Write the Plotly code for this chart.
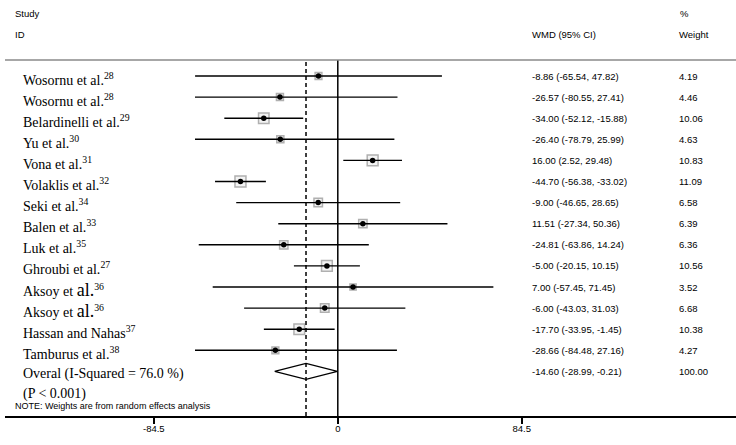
import plotly.graph_objects as go

# ---------------- data ----------------
studies = ["Wosornu et al.", "Wosornu et al.", "Belardinelli et al.", "Yu et al.",
           "Vona et al.", "Volaklis et al.", "Seki et al.", "Balen et al.",
           "Luk et al.", "Ghroubi et al.", "Aksoy et al.", "Aksoy et al.",
           "Hassan and Nahas", "Tamburus et al."]
refs = [28, 28, 29, 30, 31, 32, 34, 33, 35, 27, 36, 36, 37, 38]
wmd = [-8.86, -26.57, -34.00, -26.40, 16.00, -44.70, -9.00, 11.51, -24.81,
       -5.00, 7.00, -6.00, -17.70, -28.66]
ci_low = [-65.54, -80.55, -52.12, -78.79, 2.52, -56.38, -46.65, -27.34,
          -63.86, -20.15, -57.45, -43.03, -33.95, -84.48]
ci_high = [47.82, 27.41, -15.88, 25.99, 29.48, -33.02, 28.65, 50.36, 14.24,
           10.15, 71.45, 31.03, -1.45, 27.16]
weights = [4.19, 4.46, 10.06, 4.63, 10.83, 11.09, 6.58, 6.39, 6.36, 10.56,
           3.52, 6.68, 10.38, 4.27]
overall_est, overall_low, overall_high, overall_weight = -14.60, -28.99, -0.21, 100.00
overall_label = "Overal (I-Squared = 76.0 %)"
overall_p = "(P < 0.001)"
tick_vals = [-84.5, 0, 84.5]
tick_text = ["-84.5", "0", "84.5"]

# ---------------- layout helpers ----------------
W, H = 736, 445
X0PIX = 337.8          # pixel of value 0
SCALE = 2.1775         # pixels per unit
ROW0, ROWSTEP = 76.0, 21.1
AXIS_PIX = 416.0


def px(x):
    return x / W


def py(y):
    return 1 - y / H


def val_at(pix):
    return (pix - X0PIX) / SCALE


def row_at(pix):
    return (pix - ROW0) / ROWSTEP


rows = list(range(len(studies)))
overall_row = len(studies)

fig = go.Figure()

# weight squares
fig.add_trace(go.Scatter(x=wmd, y=rows, mode="markers", cliponaxis=False,
                         marker=dict(symbol="square",
                                     size=[3.3 * w ** 0.5 for w in weights],
                                     color="rgba(225,225,225,0.55)",
                                     line=dict(color="#8f8f8f", width=1.5)),
                         showlegend=False, hoverinfo="skip"))

# CI lines (on axis x2 whose plot area starts further right, so long CIs are clipped)
xs, ys = [], []
for r, lo, hi in zip(rows, ci_low, ci_high):
    xs += [lo, hi, None]
    ys += [r, r, None]
fig.add_trace(go.Scatter(x=xs, y=ys, mode="lines", xaxis="x2", yaxis="y",
                         line=dict(color="black", width=1.4),
                         hoverinfo="skip", showlegend=False))

# point estimates
fig.add_trace(go.Scatter(x=wmd, y=rows, mode="markers", cliponaxis=False,
                         marker=dict(symbol="circle", size=5.5, color="black"),
                         showlegend=False, hoverinfo="skip"))

# overall diamond
dh = 0.38
fig.add_trace(go.Scatter(
    x=[overall_low, overall_est, overall_high, overall_est, overall_low],
    y=[overall_row, overall_row - dh, overall_row, overall_row + dh, overall_row],
    mode="lines", fill="toself", fillcolor="white",
    line=dict(color="black", width=1.2), showlegend=False, hoverinfo="skip"))

# reference lines
fig.add_shape(type="line", xref="x", yref="paper", x0=0, x1=0,
              y0=py(AXIS_PIX), y1=py(60), line=dict(color="black", width=1.5))
fig.add_shape(type="line", xref="x", yref="paper", x0=overall_est, x1=overall_est,
              y0=py(AXIS_PIX), y1=py(60),
              line=dict(color="black", width=1.5, dash="4px,3px"))
# header separator
fig.add_shape(type="line", xref="paper", yref="paper", x0=px(5), x1=1,
              y0=py(60), y1=py(60), line=dict(color="#8a8a8a", width=1.5))

ann = []
sans = dict(family="Liberation Sans, Arial, sans-serif", size=9.5, color="black")
serif = dict(family="Liberation Serif, Times New Roman, serif", size=14, color="black")

# headers
for txt, x, y in [("Study", 13, 14), ("ID", 13, 35), ("WMD (95% CI)", 530, 35),
                  ("%", 678, 14), ("Weight", 677, 35)]:
    ann.append(dict(text=txt, xref="paper", yref="paper", x=px(x), y=py(y),
                    xanchor="left", yanchor="middle", showarrow=False, font=sans))

# study rows
for r, name, ref, e, lo, hi, w in zip(rows, studies, refs, wmd, ci_low, ci_high, weights):
    if name.startswith("Aksoy") and name.endswith(" al."):
        label = name[:-3] + '<span style="font-size:18px">al.</span><sup>%d</sup>' % ref
    else:
        label = "%s<sup>%d</sup>" % (name, ref)
    ann.append(dict(text=label, xref="paper", yref="y", x=px(21), y=r + 0.12,
                    xanchor="left", yanchor="middle", showarrow=False, font=serif))
    ann.append(dict(text="%.2f (%.2f, %.2f)" % (e, lo, hi), xref="paper", yref="y",
                    x=px(530), y=r, xanchor="left", yanchor="middle",
                    showarrow=False, font=sans))
    ann.append(dict(text="%.2f" % w, xref="paper", yref="y", x=px(677), y=r,
                    xanchor="left", yanchor="middle", showarrow=False, font=sans))

# overall row
ann.append(dict(text=overall_label, xref="paper", yref="y", x=px(21), y=overall_row + 0.1,
                xanchor="left", yanchor="middle", showarrow=False, font=serif))
ann.append(dict(text=overall_p, xref="paper", yref="y", x=px(21), y=overall_row + 1.05,
                xanchor="left", yanchor="middle", showarrow=False, font=serif))
ann.append(dict(text="%.2f (%.2f, %.2f)" % (overall_est, overall_low, overall_high),
                xref="paper", yref="y", x=px(530), y=overall_row, xanchor="left",
                yanchor="middle", showarrow=False, font=sans))
ann.append(dict(text="%.2f" % overall_weight, xref="paper", yref="y", x=px(677),
                y=overall_row, xanchor="left", yanchor="middle", showarrow=False,
                font=sans))
ann.append(dict(text="NOTE: Weights are from random effects analysis", xref="paper",
                yref="paper", x=px(13), y=py(406), xanchor="left", yanchor="middle",
                showarrow=False, font=dict(family="Liberation Sans, Arial, sans-serif",
                                           size=9, color="black")))

fig.update_layout(
    width=W, height=H, margin=dict(l=0, r=0, t=0, b=0),
    paper_bgcolor="white", plot_bgcolor="rgba(0,0,0,0)", showlegend=False,
    annotations=ann,
    xaxis=dict(domain=[px(5), 1], range=[val_at(5), val_at(W)],
               showgrid=False, zeroline=False, showline=True, linecolor="black",
               linewidth=1.5, ticks="outside", ticklen=6, tickwidth=1.5,
               tickcolor="black", tickvals=tick_vals, ticktext=tick_text,
               ticklabelstandoff=-3,
               tickfont=dict(family="Liberation Sans, Arial, sans-serif", size=9.5,
                             color="black"), anchor="y", fixedrange=True),
    xaxis2=dict(domain=[px(195), 1], range=[val_at(195), val_at(W)],
                anchor="y", visible=False, showgrid=False, zeroline=False),
    yaxis=dict(domain=[py(AXIS_PIX), 1], range=[row_at(AXIS_PIX), row_at(0)],
               visible=False, showgrid=False, zeroline=False),
)

fig.write_html("out.html", config={"displayModeBar": False},
               post_script="document.body.style.margin='0px';")
